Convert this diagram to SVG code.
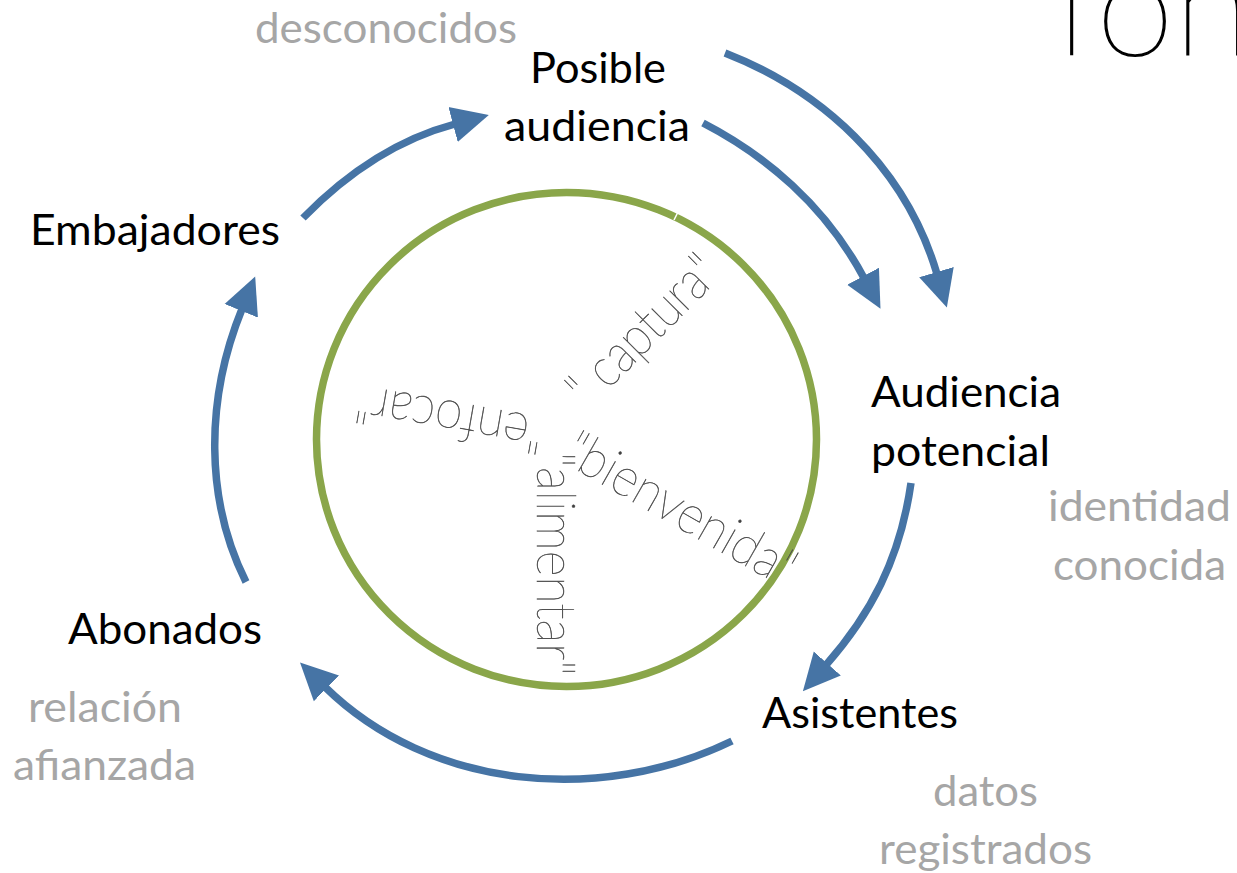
<svg xmlns="http://www.w3.org/2000/svg" width="1237" height="873" viewBox="0 0 1237 873">
<style>
.n{font-family:"Lato","Liberation Sans",sans-serif;font-size:42px;fill:#000}
.g{font-family:"Lato","Liberation Sans",sans-serif;font-size:42px;fill:#a6a6a6}
.t{font-family:"Lato","Inter",sans-serif;font-weight:100;fill:#404040;stroke:#505050;stroke-width:.5;font-size:54px}
.c{fill:none;stroke:#4674a5;stroke-width:7.5}
</style>
<defs><marker id="h" markerUnits="userSpaceOnUse" markerWidth="40" markerHeight="40" refX="2" refY="20" orient="auto"><path d="M0 2L37 20L0 38Z" fill="#4674a5"/></marker></defs>
<rect width="1237" height="873" fill="#fff"/>
<text x="1057" y="55" dx="0 5 -5" style="font-family:Lato,Inter,sans-serif;font-weight:100;font-size:141px;letter-spacing:5px;fill:#000;stroke:#000;stroke-width:1.4">ion</text>
<g id="ring"><ellipse cx="566.5" cy="439.5" rx="250" ry="247" fill="none" stroke="#8aa64a" stroke-width="7.5"/><path d="M674 220L678 212" stroke="#fff" stroke-width="1.5" fill="none"/></g>
<g id="connectors">
<path class="c" marker-end="url(#h)" d="M725 53C820 90 905 165 937 274"/>
<path class="c" marker-end="url(#h)" d="M703 123C765 155 825 205 864 278"/>
<path class="c" marker-end="url(#h)" d="M911 483C900 560 870 615 826 665"/>
<path class="c" marker-end="url(#h)" d="M732 741C600 805 430 790 325 687"/>
<path class="c" marker-end="url(#h)" d="M246 582C205 500 205 400 242 309"/>
<path class="c" marker-end="url(#h)" d="M303 218C345 175 395 140 455 124"/>
</g>
<g id="posible"><text class="n" x="530" y="83" textLength="136" lengthAdjust="spacingAndGlyphs">Posible</text><text class="n" x="504" y="141" textLength="186" lengthAdjust="spacingAndGlyphs">audiencia</text></g>
<g id="embajadores"><text class="n" x="30" y="245" textLength="250" lengthAdjust="spacingAndGlyphs">Embajadores</text></g>
<g id="audiencia"><text class="n" x="871" y="407" textLength="190" lengthAdjust="spacingAndGlyphs">Audiencia</text><text class="n" x="871" y="466" textLength="179" lengthAdjust="spacingAndGlyphs">potencial</text></g>
<g id="asistentes"><text class="n" x="762" y="728" textLength="196" lengthAdjust="spacingAndGlyphs">Asistentes</text></g>
<g id="abonados"><text class="n" x="68" y="644" textLength="194" lengthAdjust="spacingAndGlyphs">Abonados</text></g>
<g id="notes">
<text class="g" x="255" y="43" textLength="262" lengthAdjust="spacingAndGlyphs">desconocidos</text>
<text class="g" x="1048" y="521" textLength="183" lengthAdjust="spacingAndGlyphs">identidad</text>
<text class="g" x="1053" y="580" textLength="173" lengthAdjust="spacingAndGlyphs">conocida</text>
<text class="g" x="933" y="806" textLength="105" lengthAdjust="spacingAndGlyphs">datos</text>
<text class="g" x="879" y="864" textLength="213" lengthAdjust="spacingAndGlyphs">registrados</text>
<text class="g" x="28" y="722" textLength="154" lengthAdjust="spacingAndGlyphs">relación</text>
<text class="g" x="13" y="780" textLength="183" lengthAdjust="spacingAndGlyphs">afianzada</text>
</g>
<g id="phases">
<text class="t" transform="translate(588 410) rotate(-45)" textLength="190" lengthAdjust="spacingAndGlyphs">" captura"</text>
<text class="t" transform="translate(561 461) rotate(29.7)" textLength="256" lengthAdjust="spacingAndGlyphs">"bienvenida"</text>
<text class="t" transform="translate(537 452) rotate(90)" textLength="224" lengthAdjust="spacingAndGlyphs">"alimentar"</text>
<text class="t" transform="translate(546 418) rotate(190)" textLength="190" lengthAdjust="spacingAndGlyphs">"enfocar"</text>
</g>
</svg>
